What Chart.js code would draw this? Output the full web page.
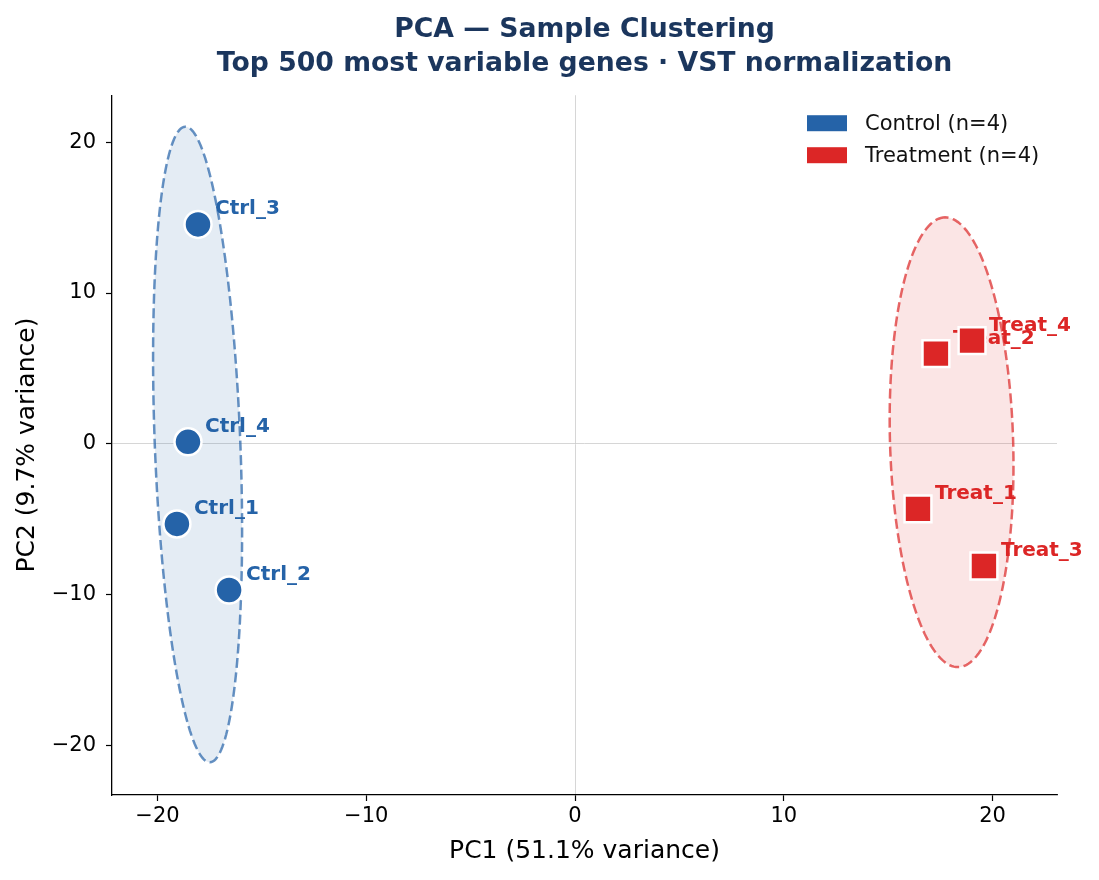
<!DOCTYPE html>
<html>
<head>
<meta charset="utf-8">
<script src="https://cdn.jsdelivr.net/npm/chart.js@4/dist/chart.umd.min.js"></script>
<style>
  html, body { margin: 0; padding: 0; background: #fff; }
  canvas { display: block; }
</style>
</head>
<body>
<canvas id="pca" width="1099" height="880"></canvas>
<script>
// sample coordinates
const ctrlNames = ["Ctrl_1", "Ctrl_2", "Ctrl_3", "Ctrl_4"];
const ctrlPC1 = [-19.07, -16.57, -18.06, -18.54];
const ctrlPC2 = [-5.32, -9.70, 14.55, 0.13];

const treatNames = ["Treat_1", "Treat_2", "Treat_3", "Treat_4"];
const treatPC1 = [16.43, 17.29, 19.59, 19.02];
const treatPC2 = [-4.32, 5.98, -8.11, 6.84];

const groupLabels = ["Control (n=4)", "Treatment (n=4)"];
const groupColors = ["#2563a8", "#dc2626"];

// confidence ellipses (data units): centre, semi axes, angle in degrees
const ellipseCx = [-18.08, 18.04];
const ellipseCy = [-0.05, 0.10];
const ellipseMajor = [21.09, 14.92];
const ellipseMinor = [2.05, 2.95];
const ellipseAngle = [91.6, 91.2];

const xTicks = [-20, -10, 0, 10, 20];
const yTicks = [-20, -10, 0, 10, 20];

const FONT = "'DejaVu Sans', sans-serif";

function hexA(hex, a) {
  const n = parseInt(hex.slice(1), 16);
  return `rgba(${(n >> 16) & 255}, ${(n >> 8) & 255}, ${n & 255}, ${a})`;
}

const toPoints = (xs, ys) => xs.map((x, i) => ({ x: x, y: ys[i] }));

const ellipsePlugin = {
  id: "ellipses",
  beforeDatasetsDraw(chart) {
    const { ctx, chartArea, scales } = chart;
    ctx.save();
    ctx.beginPath();
    ctx.rect(chartArea.left, chartArea.top, chartArea.width, chartArea.height);
    ctx.clip();
    ellipseCx.forEach((cx, k) => {
      const th = ellipseAngle[k] * Math.PI / 180;
      ctx.beginPath();
      for (let i = 0; i <= 180; i++) {
        const t = (i / 180) * Math.PI * 2;
        const a = ellipseMajor[k] * Math.cos(t);
        const b = ellipseMinor[k] * Math.sin(t);
        const dx = cx + a * Math.cos(th) - b * Math.sin(th);
        const dy = ellipseCy[k] + a * Math.sin(th) + b * Math.cos(th);
        const px = scales.x.getPixelForValue(dx);
        const py = scales.y.getPixelForValue(dy);
        if (i === 0) ctx.moveTo(px, py); else ctx.lineTo(px, py);
      }
      ctx.closePath();
      ctx.fillStyle = hexA(groupColors[k], 0.12);
      ctx.fill();
      ctx.setLineDash([10, 4.5]);
      ctx.lineWidth = 2.5;
      ctx.strokeStyle = hexA(groupColors[k], 0.7);
      ctx.stroke();
    });
    ctx.restore();

    // sample labels sit under the markers, may run past the axes
    ctx.save();
    ctx.font = "bold 20px " + FONT;
    ctx.textAlign = "left";
    ctx.textBaseline = "alphabetic";
    const groups = [[ctrlNames, ctrlPC1, ctrlPC2], [treatNames, treatPC1, treatPC2]];
    groups.forEach(([names, xs, ys], k) => {
      ctx.fillStyle = groupColors[k];
      names.forEach((name, i) => {
        const px = scales.x.getPixelForValue(xs[i]);
        const py = scales.y.getPixelForValue(ys[i]);
        ctx.fillText(name, px + 17, py - 10);
      });
    });
    ctx.restore();
  },
  afterDraw(chart) {
    const { ctx, chartArea } = chart;
    // legend, top right inside axes
    ctx.save();
    ctx.font = "21px " + FONT;
    ctx.textBaseline = "middle";
    ctx.textAlign = "left";
    groupLabels.forEach((lab, k) => {
      const y = chartArea.top + 28 + k * 32;
      ctx.fillStyle = groupColors[k];
      ctx.fillRect(chartArea.right - 250, y - 8, 40, 16);
      ctx.fillStyle = "#111";
      ctx.fillText(lab, chartArea.right - 192, y + 1);
    });
    ctx.restore();
  }
};

const tickFmt = (v) => String(v).replace("-", "\u2212");

new Chart(document.getElementById("pca"), {
  type: "scatter",
  data: {
    datasets: [
      {
        label: groupLabels[0],
        data: toPoints(ctrlPC1, ctrlPC2),
        pointStyle: "circle",
        pointRadius: 13.5,
        pointHoverRadius: 13.5,
        backgroundColor: groupColors[0],
        borderColor: "#ffffff",
        borderWidth: 2.5
      },
      {
        label: groupLabels[1],
        data: toPoints(treatPC1, treatPC2),
        pointStyle: "rect",
        pointRadius: 19,
        pointHoverRadius: 19,
        backgroundColor: groupColors[1],
        borderColor: "#ffffff",
        borderWidth: 2.5
      }
    ]
  },
  options: {
    responsive: false,
    animation: false,
    events: [],
    layout: { padding: { left: 0, right: 42, top: 0, bottom: 0 } },
    plugins: {
      legend: { display: false },
      tooltip: { enabled: false },
      title: {
        display: true,
        fullSize: false,
        text: ["PCA \u2014 Sample Clustering", "Top 500 most variable genes \u00b7 VST normalization"],
        color: "#1b365d",
        font: { family: FONT, size: 26.7, weight: "bold", lineHeight: 1.24 },
        padding: { top: 14, bottom: 15 }
      }
    },
    scales: {
      x: {
        type: "linear",
        min: -22.18,
        max: 23.09,
        afterFit: (s) => { s.height = 85; },
        afterBuildTicks: (s) => { s.ticks = xTicks.map((v) => ({ value: v })); },
        ticks: { callback: tickFmt, color: "#000", font: { family: FONT, size: 21 }, padding: 3, maxRotation: 0 },
        grid: {
          drawOnChartArea: true,
          color: (c) => (c.tick && c.tick.value === 0 ? "#cccccc" : "rgba(0,0,0,0)"),
          lineWidth: 0.8,
          tickColor: "#000",
          tickLength: 6,
          tickWidth: 1.2
        },
        border: { color: "#000", width: 1.3 },
        title: { display: true, text: "PC1 (51.1% variance)", color: "#000", font: { family: FONT, size: 25 }, padding: { top: 14, bottom: 14 } }
      },
      y: {
        type: "linear",
        min: -23.3,
        max: 23.12,
        afterFit: (s) => { s.width = 112; },
        afterBuildTicks: (s) => { s.ticks = yTicks.map((v) => ({ value: v })); },
        ticks: { callback: tickFmt, color: "#000", font: { family: FONT, size: 21 }, padding: 10 },
        grid: {
          drawOnChartArea: true,
          color: (c) => (c.tick && c.tick.value === 0 ? "#cccccc" : "rgba(0,0,0,0)"),
          lineWidth: 0.8,
          tickColor: "#000",
          tickLength: 6,
          tickWidth: 1.2
        },
        border: { color: "#000", width: 1.3 },
        title: { display: true, text: "PC2 (9.7% variance)", color: "#000", font: { family: FONT, size: 25 }, padding: { top: 12, bottom: 12 } }
      }
    }
  },
  plugins: [ellipsePlugin]
});
</script>
</body>
</html>
